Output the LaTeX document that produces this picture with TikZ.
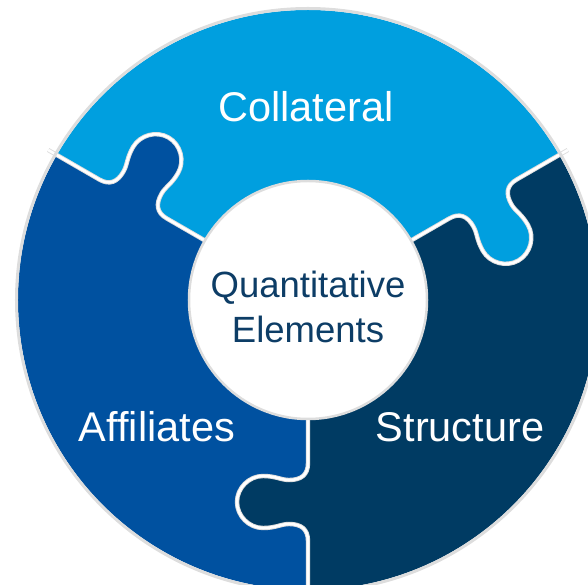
\documentclass[tikz,border=0pt]{standalone}
\usepackage{fontspec}
\setmainfont{Liberation Sans}
\usepackage{xcolor}
\usetikzlibrary{positioning}

\definecolor{collatblue}{HTML}{009FDF}
\definecolor{affilblue}{HTML}{0051A0}
\definecolor{structblue}{HTML}{003B63}
\definecolor{hubtext}{HTML}{0D3D66}
\definecolor{rimgrey}{HTML}{DDDDDD}

% one jigsaw knob, drawn along the x axis and bulging to -y
\newcommand{\knob}{.. controls (175,0) and (180,-7) .. (180,-19)
  .. controls (180,-27) and (176,-32) .. (176,-45)
  .. controls (176,-59) and (188,-71) .. (202,-71)
  .. controls (216,-71) and (228,-59) .. (228,-45)
  .. controls (228,-32) and (224,-27) .. (224,-19)
  .. controls (224,-7) and (229,0) .. (241,0)}

\begin{document}
\begin{tikzpicture}[
  x=1pt,y=1pt,
  seam/.style={draw=rimgrey,line width=0.9pt,double=white,double distance=2.6pt},
  piecelabel/.style={text=white,inner sep=0pt,anchor=base,
  font=\fontsize{41.5}{50}\selectfont},
  hublabel/.style={text=hubtext,inner sep=0pt,anchor=base,
  font=\fontsize{36.5}{45}\selectfont}
]
\useasboundingbox (-308,-285) rectangle (280,300);
\clip (-308,-285) rectangle (280,300);

% the three pieces
\fill[collatblue] (0,0) -- (30:290) arc[start angle=30,end angle=150,radius=290] -- cycle;
\fill[affilblue] (0,0) -- (150:290) arc[start angle=150,end angle=270,radius=290] -- cycle;
\fill[structblue] (0,0) -- (270:290) arc[start angle=270,end angle=390,radius=290] -- cycle;

% knobs and seams
\foreach \ang/\col in {150/affilblue,30/collatblue,270/structblue}{
  \fill[\col,rotate=\ang] (163,3) -- (163,0) \knob -- (241,3) -- cycle;
  \draw[seam,rotate=\ang] (110,0) -- (163,0) \knob -- (300,0);
}

\draw[rimgrey,line width=3pt] (0,0) circle[radius=291.5];

\node[circle,fill=white,draw=rimgrey,line width=2.5pt,minimum size=238pt,inner sep=0pt] (hub) at (0,0) {};

\node[hublabel] (quant) at (0,2) {Quantitative};
\node[hublabel] (elem) at (0,-43) {Elements};

\node[piecelabel] (collat) at (-2,178) {Collateral};
\node[piecelabel] (affil) at (-151,-142) {Affiliates};
\node[piecelabel] (struct) at (152,-142) {Structure};
\end{tikzpicture}
\end{document}
